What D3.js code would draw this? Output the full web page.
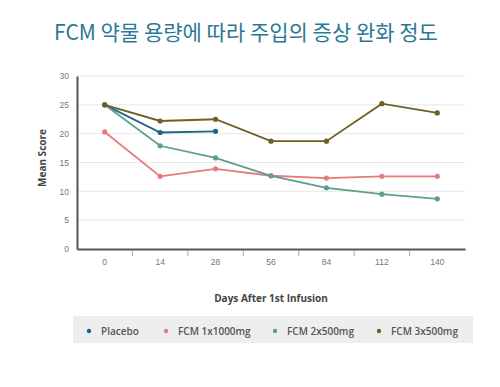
<!DOCTYPE html>
<html>
<head>
<meta charset="utf-8">
<style>
    body { margin: 0; background: #fff; font-family: "Open Sans", sans-serif; }
    .grid line { stroke: #e8e8e8; stroke-width: 1px; }
    .tick text { fill: #777; font-size: 8.5px; }
</style>
<script src="https://d3js.org/d3.v7.min.js"></script>
</head>
<body>
<svg id="chart" width="500" height="387"></svg>
<script>
    // data
    const days = ['0', '14', '28', '56', '84', '112', '140'];
    const seriesNames = ['Placebo', 'FCM 1x1000mg', 'FCM 2x500mg', 'FCM 3x500mg'];
    const placebo = [25, 20.2, 20.4];
    const fcm1x1000 = [20.3, 12.6, 13.9, 12.7, 12.3, 12.6, 12.6];
    const fcm2x500 = [25, 17.9, 15.8, 12.7, 10.6, 9.5, 8.7];
    const fcm3x500 = [25, 22.2, 22.5, 18.7, 18.7, 25.2, 23.6];
    const yTicks = [0, 5, 10, 15, 20, 25, 30];
    const colors = ['#1d6688', '#e87a7c', '#5e9e8e', '#6d6122'];

    const series = [placebo, fcm1x1000, fcm2x500, fcm3x500].map((vals, i) => ({
        name: seriesNames[i],
        color: colors[i],
        points: vals.map((v, j) => ({ day: days[j], value: v }))
    }));

    const svg = d3.select('#chart');
    const plotLeft = 77, plotRight = 465, plotTop = 76, plotBottom = 249;

    const x = d3.scaleBand().domain(days).range([plotLeft, plotRight]);
    const y = d3.scaleLinear().domain([0, 30]).range([plotBottom, plotTop]);

    svg.append('text')
        .attr('x', 246).attr('y', 40)
        .attr('text-anchor', 'middle')
        .style('font-family', '"Noto Sans CJK KR", sans-serif')
        .style('font-size', '21px')
        .style('fill', '#2a7896')
        .text('FCM 약물 용량에 따라 주입의 증상 완화 정도');

    // gridlines
    svg.append('g').attr('class', 'grid')
        .selectAll('line')
        .data(yTicks.filter(d => d > 0))
        .join('line')
        .attr('x1', plotLeft).attr('x2', plotRight)
        .attr('y1', d => y(d)).attr('y2', d => y(d));

    // y axis
    const yAxis = svg.append('g')
        .attr('transform', `translate(${plotLeft},0)`)
        .call(d3.axisLeft(y).tickValues(yTicks).tickSize(0).tickPadding(8));
    yAxis.select('.domain').attr('stroke', '#555').attr('stroke-width', 2);

    // x axis: ticks on the band boundaries, labels in the middle
    const xAxis = svg.append('g')
        .attr('transform', `translate(0,${plotBottom})`)
        .call(d3.axisBottom(x).tickSize(0).tickPadding(10));
    xAxis.select('.domain').attr('stroke', '#555').attr('stroke-width', 2);
    xAxis.selectAll('.tick').each(function(d, i) {
        if (i > 0) {
            d3.select(this).append('line')
                .attr('x1', -x.bandwidth() / 2).attr('x2', -x.bandwidth() / 2)
                .attr('y1', 1).attr('y2', 7)
                .attr('stroke', '#aaa');
        }
    });

    svg.append('text')
        .attr('transform', 'translate(46,158) rotate(-90)')
        .attr('text-anchor', 'middle')
        .style('font-size', '10px').style('font-weight', 'bold').style('fill', '#444')
        .text('Mean Score');

    svg.append('text')
        .attr('x', 271).attr('y', 302)
        .attr('text-anchor', 'middle')
        .style('font-size', '10px').style('font-weight', 'bold').style('fill', '#444')
        .text('Days After 1st Infusion');

    const line = d3.line()
        .x(d => x(d.day) + x.bandwidth() / 2)
        .y(d => y(d.value));

    const sg = svg.selectAll('g.series')
        .data(series)
        .join('g').attr('class', 'series');

    sg.append('path')
        .attr('d', d => line(d.points))
        .attr('fill', 'none')
        .attr('stroke', d => d.color)
        .attr('stroke-width', 1.8);

    sg.selectAll('circle')
        .data(d => d.points.map(p => ({ ...p, color: d.color })))
        .join('circle')
        .attr('cx', d => x(d.day) + x.bandwidth() / 2)
        .attr('cy', d => y(d.value))
        .attr('r', 2.6)
        .attr('fill', d => d.color);

    // legend
    const legend = svg.append('g');
    legend.append('rect')
        .attr('x', 73).attr('y', 316).attr('width', 400).attr('height', 27)
        .attr('fill', '#eeeeee');
    const legendX = [89, 166, 275, 379];
    const item = legend.selectAll('g.item')
        .data(series)
        .join('g').attr('class', 'item')
        .attr('transform', (d, i) => `translate(${legendX[i]},331)`);
    item.append('circle').attr('r', 2.2).attr('fill', d => d.color);
    item.append('text')
        .attr('x', 12).attr('y', 3.5)
        .style('font-size', '10px').style('font-weight', 600).style('fill', '#555')
        .text(d => d.name);
</script>
</body>
</html>
